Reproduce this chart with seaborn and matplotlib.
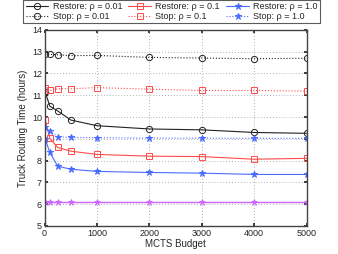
import matplotlib
matplotlib.use("Agg")
import matplotlib.pyplot as plt
import seaborn as sns
import pandas as pd

budget = [10, 100, 250, 500, 1000, 2000, 3000, 4000, 5000]

restore_001 = [11.15, 10.50, 10.28, 9.86, 9.60, 9.45, 9.41, 9.29, 9.25]
stop_001 = [12.90, 12.88, 12.86, 12.82, 12.83, 12.74, 12.71, 12.68, 12.70]
restore_01 = [9.86, 9.02, 8.60, 8.43, 8.28, 8.20, 8.18, 8.06, 8.10]
stop_01 = [11.35, 11.22, 11.30, 11.30, 11.35, 11.28, 11.22, 11.22, 11.19]
restore_10 = [9.00, 8.37, 7.74, 7.60, 7.50, 7.45, 7.42, 7.36, 7.36]
stop_10 = [9.52, 9.35, 9.09, 9.06, 9.05, 9.03, 9.03, 9.02, 9.02]
extra = [6.08, 6.08, 6.08, 6.08, 6.08, 6.08, 6.08, 6.08, 6.08]

series_labels = ["Restore: ρ = 0.01", "Stop: ρ = 0.01",
                 "Restore: ρ = 0.1", "Stop: ρ = 0.1",
                 "Restore: ρ = 1.0", "Stop: ρ = 1.0"]

sns.set_theme(style="white")
plt.rcParams['font.family'] = ['Liberation Sans', 'DejaVu Sans']

fig = plt.figure(figsize=(3.38, 2.54), dpi=100)
ax = fig.add_axes([0.132, 0.111, 0.775, 0.771])

black = "#222222"
red = "#ff4a4a"
blue = "#4a6cff"
purple = "#cc66ff"

specs = [
    (restore_001, series_labels[0], black, "-", "o", "none"),
    (stop_001, series_labels[1], black, ":", "o", "none"),
    (restore_01, series_labels[2], red, "-", "s", "none"),
    (stop_01, series_labels[3], red, ":", "s", "none"),
    (restore_10, series_labels[4], blue, "-", "*", blue),
    (stop_10, series_labels[5], blue, ":", "*", blue),
]

for vals, lab, col, ls, mk, mfc in specs:
    df = pd.DataFrame({"x": budget, "y": vals})
    sns.lineplot(data=df, x="x", y="y", ax=ax, color=col, linestyle=ls,
                 marker=mk, markersize=4.5,
                 markerfacecolor=mfc, markeredgecolor=col, markeredgewidth=0.7,
                 linewidth=0.8, label=lab)

df = pd.DataFrame({"x": budget, "y": extra})
sns.lineplot(data=df, x="x", y="y", ax=ax, color=purple, linestyle="-",
             marker="*", markersize=5, markerfacecolor=purple,
             markeredgecolor=purple, markeredgewidth=0.5, linewidth=1.0,
             label="_nolegend_")

ax.set_xlim(0, 5000)
ax.set_ylim(5, 14)
ax.set_xticks([0, 1000, 2000, 3000, 4000, 5000])
ax.set_yticks(range(5, 15))
ax.tick_params(axis="both", labelsize=6.5, length=2, direction="in", pad=2,
               left=True, bottom=True, top=True, right=True)
ax.grid(True, linestyle=(0, (1, 2.5)), color="#999999", linewidth=0.6)
for s in ax.spines.values():
    s.set_color("#444444")
    s.set_linewidth(1.0)
ax.set_xlabel("MCTS Budget", fontsize=7, labelpad=1)
ax.set_ylabel("Truck Routing Time (hours)", fontsize=7, labelpad=3)

handles, labels = ax.get_legend_handles_labels()
ax.get_legend().remove()
leg = fig.legend(handles, labels, loc="upper center", ncol=3,
                 bbox_to_anchor=(0.508, 1.0), fontsize=6.5, frameon=True,
                 fancybox=False, edgecolor="#333333", borderpad=0.25,
                 borderaxespad=0.0,
                 handlelength=2.5, columnspacing=0.7, handletextpad=0.5,
                 labelspacing=0.1)
leg.get_frame().set_linewidth(0.8)

fig.savefig("out.png", dpi=100)
